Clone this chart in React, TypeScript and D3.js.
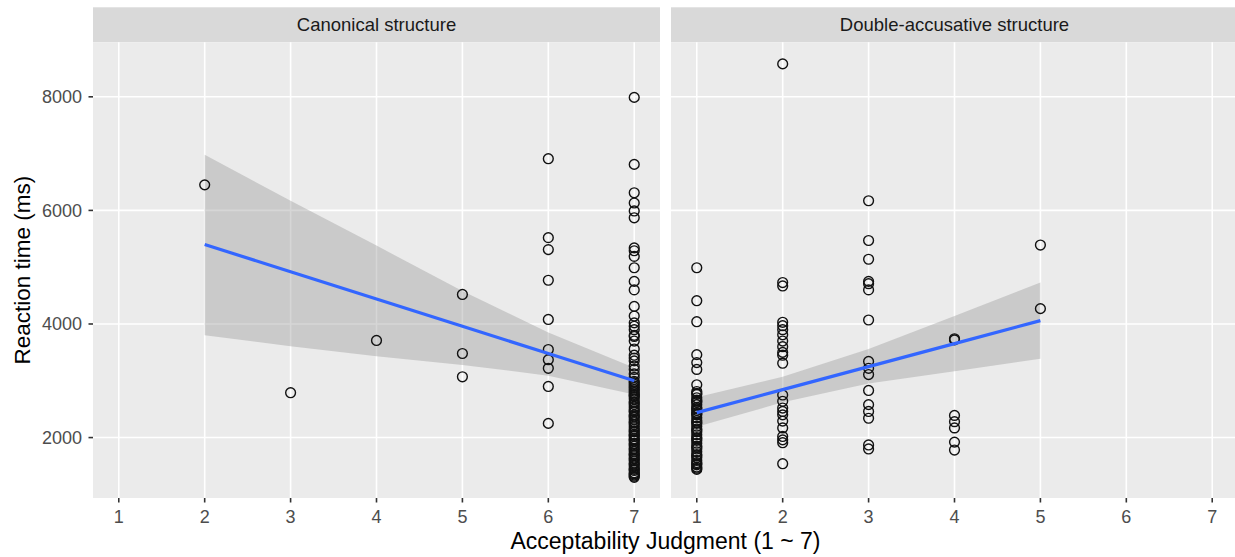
import React from "react";
import * as d3 from "d3";

const xTicks = [1, 2, 3, 4, 5, 6, 7];
const yTicks = [2000, 4000, 6000, 8000];
const panelTitles = ["Canonical structure", "Double-accusative structure"];

// Canonical structure: reaction times (ms) per judgment level
const canonical2 = [6450];
const canonical3 = [2790];
const canonical4 = [3710];
const canonical5 = [4520, 3480, 3070];
const canonical6 = [6910, 5520, 5310, 4770, 4080, 3550, 3370, 3220, 2900, 2250];
const canonical7 = [
  7990, 6810, 6310, 6130, 5990, 5870, 5340, 5290, 5190, 4990, 4750, 4600, 4310,
  4140, 4020, 3960, 3900, 3800, 3780, 3700, 3560, 3450, 3400, 3350, 3260, 3200,
  3120, 3060, 2990, 2940, 2880, 2820, 2760, 2720, 2680, 2630, 2580, 2540, 2500,
  2450, 2400, 2360, 2320, 2280, 2230, 2190, 2150, 2100, 2060, 2020, 1980, 1940,
  1900, 1850, 1810, 1760, 1720, 1680, 1640, 1590, 1550, 1500, 1460, 1420, 1380,
  1340, 1300, 2970, 2910, 2850, 2790, 2740, 2610, 2470, 2380, 2260, 2120, 2040,
  1960, 1880, 1790, 1700, 1620, 1530, 1440, 1360, 1320,
];

// Double-accusative structure
const double1 = [
  4990, 4410, 4040, 3460, 3320, 3200, 2930, 2810, 2760, 2700, 2660, 2620, 2580,
  2530, 2480, 2440, 2400, 2350, 2300, 2250, 2200, 2150, 2100, 2050, 2000, 1950,
  1900, 1850, 1800, 1750, 1700, 1650, 1600, 1560, 1520, 1480, 1440, 2780, 2640,
  2510, 2420, 2270, 2130, 1980, 1830, 1680, 1540, 1460,
];
const double2 = [
  8580, 4730, 4670, 4030, 3970, 3900, 3810, 3700, 3600, 3500, 3450, 3310, 2750,
  2640, 2520, 2460, 2400, 2290, 2170, 2020, 1960, 1910, 1540,
];
const double3 = [
  6170, 5470, 5140, 4750, 4710, 4600, 4070, 3340, 3220, 3110, 2830, 2580, 2460,
  2340, 1870, 1800,
];
const double4 = [3740, 3720, 2390, 2280, 2170, 1920, 1780];
const double5 = [5390, 4270];

// linear fits and confidence bands
const canonicalFitX = [2, 3, 4, 5, 6, 7];
const canonicalFit = [5400, 4920, 4440, 3960, 3480, 3000];
const canonicalUpper = [6980, 6170, 5380, 4580, 3850, 3230];
const canonicalLower = [3800, 3610, 3430, 3280, 3090, 2760];

const doubleFitX = [1, 2, 3, 4, 5];
const doubleFit = [2440, 2845, 3250, 3655, 4060];
const doubleUpper = [2710, 3070, 3560, 4140, 4730];
const doubleLower = [2190, 2620, 2950, 3170, 3390];

const toPoints = (levels: number[], groups: number[][]) =>
  levels.flatMap((lv, i) => groups[i].map((v) => ({ x: lv, y: v })));

const panels = [
  {
    title: panelTitles[0],
    left: 93,
    right: 660,
    points: toPoints([2, 3, 4, 5, 6, 7], [canonical2, canonical3, canonical4, canonical5, canonical6, canonical7]),
    fitX: canonicalFitX,
    fit: canonicalFit,
    upper: canonicalUpper,
    lower: canonicalLower,
  },
  {
    title: panelTitles[1],
    left: 671,
    right: 1238,
    points: toPoints([1, 2, 3, 4, 5], [double1, double2, double3, double4, double5]),
    fitX: doubleFitX,
    fit: doubleFit,
    upper: doubleUpper,
    lower: doubleLower,
  },
];

const W = 1235;
const H = 557;
const top = 42.3;
const bottom = 498;
const stripTop = 7.3;
const font = "'Liberation Sans', Arial, sans-serif";

export default function App() {
  const y = d3.scaleLinear().domain([936, 8960]).range([bottom, top]);

  return (
    <svg
      width={W}
      height={H}
      style={{ position: "absolute", left: 0, top: 0, background: "#fff" }}
      fontFamily={font}
    >
      {panels.map((p, pi) => {
        const x = d3.scaleLinear().domain([0.7, 7.3]).range([p.left, p.right]);
        const area = d3
          .area<number>()
          .x((d) => x(d))
          .y0((_, i) => y(p.lower[i]))
          .y1((_, i) => y(p.upper[i]));
        const line = d3
          .line<number>()
          .x((d) => x(d))
          .y((_, i) => y(p.fit[i]));
        return (
          <g key={pi}>
            <rect x={p.left} y={stripTop} width={p.right - p.left} height={top - stripTop} fill="#D9D9D9" />
            <text
              x={(p.left + p.right) / 2}
              y={(stripTop + top) / 2}
              dy="0.35em"
              textAnchor="middle"
              fontSize={18.5}
              fill="#1A1A1A"
            >
              {p.title}
            </text>
            <rect x={p.left} y={top} width={p.right - p.left} height={bottom - top} fill="#EBEBEB" />
            {yTicks.map((t) => (
              <line key={t} x1={p.left} x2={p.right} y1={y(t)} y2={y(t)} stroke="#fff" strokeWidth={1.6} />
            ))}
            {xTicks.map((t) => (
              <line key={t} x1={x(t)} x2={x(t)} y1={top} y2={bottom} stroke="#fff" strokeWidth={1.6} />
            ))}
            <path d={area(p.fitX) || ""} fill="#999999" fillOpacity={0.4} />
            <g fill="none" stroke="#111" strokeWidth={1.4}>
              {p.points.map((d, i) => (
                <circle key={i} cx={x(d.x)} cy={y(d.y)} r={4.9} />
              ))}
            </g>
            <path d={line(p.fitX) || ""} fill="none" stroke="#3366FF" strokeWidth={3.2} />
            {xTicks.map((t) => (
              <g key={t}>
                <line x1={x(t)} x2={x(t)} y1={bottom} y2={bottom + 4.5} stroke="#333" strokeWidth={1.6} />
                <text x={x(t)} y={bottom + 18.5} dy="0.35em" textAnchor="middle" fontSize={18} fill="#4D4D4D">
                  {t}
                </text>
              </g>
            ))}
          </g>
        );
      })}
      {yTicks.map((t) => (
        <g key={t}>
          <line x1={88.5} x2={93} y1={y(t)} y2={y(t)} stroke="#333" strokeWidth={1.6} />
          <text x={82} y={y(t)} dy="0.35em" textAnchor="end" fontSize={18} fill="#4D4D4D">
            {t}
          </text>
        </g>
      ))}
      <text
        transform={`translate(22.5, ${(top + bottom) / 2}) rotate(-90)`}
        textAnchor="middle"
        dy="0.35em"
        fontSize={22.5}
        fill="#000"
      >
        Reaction time (ms)
      </text>
      <text x={665.5} y={541} dy="0.35em" textAnchor="middle" fontSize={23} fill="#000">
        Acceptability Judgment (1 ~ 7)
      </text>
    </svg>
  );
}
